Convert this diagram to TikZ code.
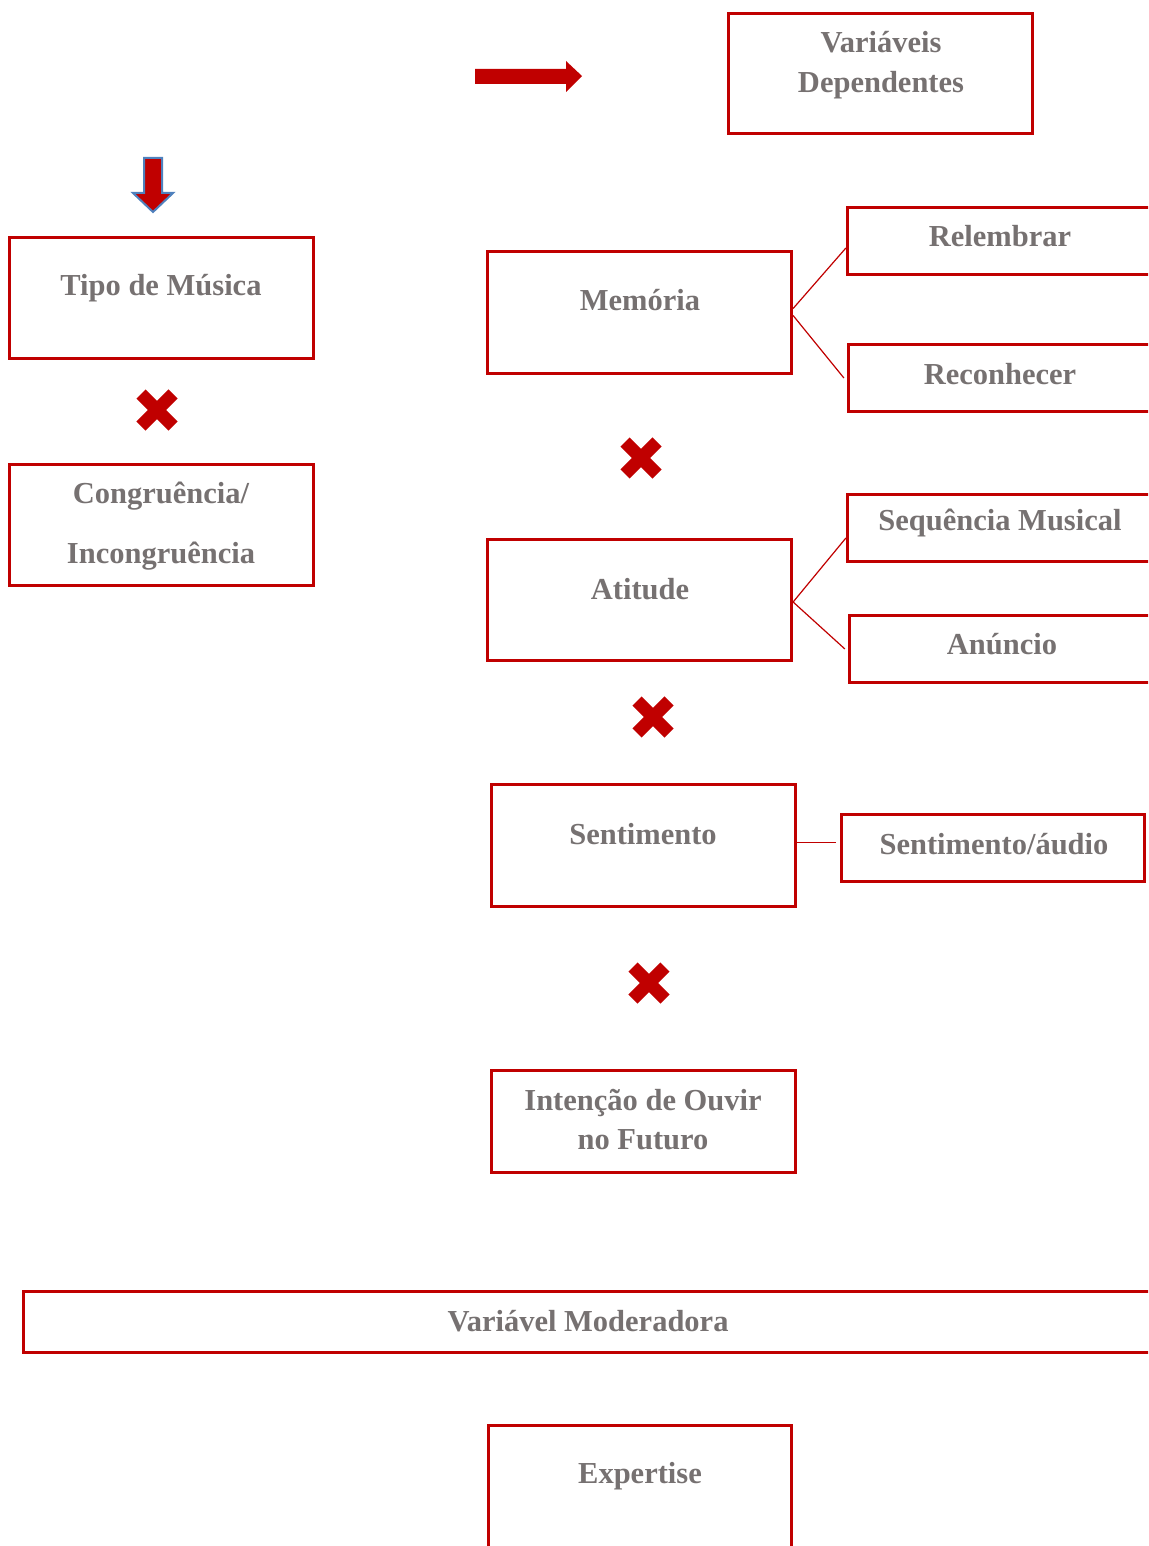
\documentclass[tikz,border=0pt]{standalone}
\usepackage{fontspec}
\setmainfont{Liberation Serif}
\usepackage{tikz}
\definecolor{crimson}{RGB}{192, 0, 0}
\definecolor{slate}{RGB}{118, 113, 113}
\definecolor{steelblue}{RGB}{79, 129, 189}

\begin{document}
\begin{tikzpicture}[x=1pt, y=-1pt,
    varbox/.style={draw=crimson, line width=3.2pt, minimum width=304pt, inner sep=0pt},
    subbox/.style={varbox, minimum width=320pt, minimum height=67pt},
    varlabel/.style={text=slate, font=\fontsize{30.5}{36}\selectfont\bfseries, align=center, inner sep=0pt},
    link/.style={draw=crimson, line width=1.2pt},
    xmark/.style={draw=crimson, line width=13pt}]
        \useasboundingbox (0,0) rectangle (1148,1546);
        \clip (0,0) rectangle (1148,1546);
            \node[varbox, minimum height=120pt]                   (dep)  at ( 880.5,  73.5) {};
            \node[varbox, minimum height=121pt]                   (tipo) at ( 161.5, 298.0) {};
            \node[varbox, minimum height=121pt]                   (cong) at ( 161.5, 525.0) {};
            \node[varbox, minimum height=122pt]                   (mem)  at ( 639.5, 312.5) {};
            \node[varbox, minimum height=121pt]                   (atit) at ( 639.5, 600.0) {};
            \node[varbox, minimum height=122pt]                   (sent) at ( 643.5, 845.5) {};
            \node[varbox, minimum height=102pt]                   (intc) at ( 643.5,1121.5) {};
            \node[varbox, minimum width=1200pt, minimum height=61pt] (mod) at ( 623.5,1322.0) {};
            \node[varbox, minimum width=303pt, minimum height=150pt] (expt) at ( 640.0,1500.5) {};
            \node[subbox]                                         (rel)  at (1007.5, 241.0) {};
            \node[subbox]                                         (rec)  at (1008.5, 378.0) {};
            \node[subbox]                                         (seq)  at (1007.5, 528.0) {};
            \node[subbox]                                         (anu)  at (1009.5, 649.0) {};
            \node[varbox, minimum width=303pt, minimum height=67pt]  (saud) at ( 993.0, 848.0) {};

            \node[varlabel] (depT)  at ( 881,  65) {Variáveis\\[4pt]Dependentes};
            \node[varlabel] (tipoT) at ( 161, 288) {Tipo de Música};
            \node[varlabel] (congT) at ( 161, 526) {Congruência/\\[24pt]Incongruência};
            \node[varlabel] (memT)  at ( 640, 300) {Memória};
            \node[varlabel] (atitT) at ( 640, 589) {Atitude};
            \node[varlabel] (sentT) at ( 643, 834) {Sentimento};
            \node[varlabel] (intcT) at ( 643,1120) {Intenção de Ouvir\\[3pt]no Futuro};
            \node[varlabel] (modT)  at ( 588,1321) {Variável Moderadora};
            \node[varlabel] (exptT) at ( 640,1476) {Expertise};
            \node[varlabel] (relT)  at (1000, 236) {Relembrar};
            \node[varlabel] (recT)  at (1000, 374) {Reconhecer};
            \node[varlabel] (seqT)  at (1000, 523) {Sequência Musical};
            \node[varlabel] (anuT)  at (1002, 644) {Anúncio};
            \node[varlabel] (saudT) at ( 994, 844) {Sentimento/áudio};

            \draw[link] ([yshift=4pt]mem.east)   -- ([yshift=-7pt]rel.west);
            \draw[link] ([yshift=-3pt]mem.east)  -- ([xshift=-3pt]rec.west);
            \draw[link] ([yshift=-2pt]atit.east) -- ([yshift=-10pt]seq.west);
            \draw[link] ([yshift=-2pt]atit.east) -- ([xshift=-3pt]anu.west);
            \draw[link, shorten >=4pt] ([yshift=3pt]sent.east) -- ([yshift=3pt]sent.east -| saud.west);

            \fill[crimson] (475,69) -- (566,69) -- (566,61) -- (582,76) -- (566,92) -- (566,84) -- (475,84) -- cycle;
            \filldraw[color=steelblue, fill=crimson, line width=2pt]
                 (144,158) -- (162,158) -- (162,193) -- (173,193) -- (153,212) -- (133,193) -- (144,193) -- cycle;

            \foreach \cx/\cy in {157/410, 641/458, 653/717, 649/983}
                \draw[xmark] (\cx-16,\cy-16) -- (\cx+16,\cy+16) (\cx-16,\cy+16) -- (\cx+16,\cy-16);
\end{tikzpicture}
\end{document}
